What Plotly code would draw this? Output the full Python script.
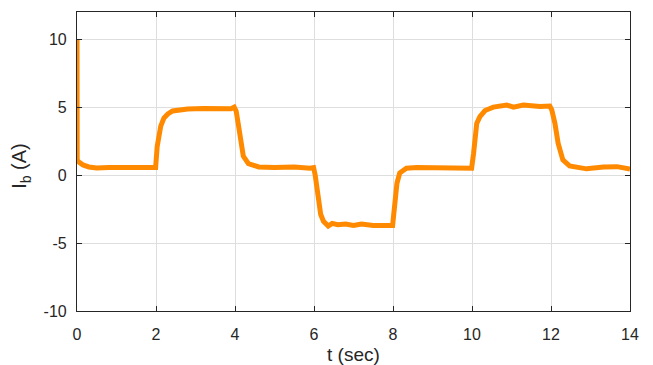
import plotly.graph_objects as go

# Time samples (s) and phase current I_b (A)
t_sec = [0.0, 0.005, 0.05, 0.15, 0.3, 0.5, 0.8, 1.0, 1.3, 1.6, 1.9, 1.99,
         2.03, 2.08, 2.12, 2.2, 2.3, 2.42, 2.6, 2.8, 3.2, 3.6, 3.9, 3.98,
         4.03, 4.08, 4.13, 4.21, 4.34, 4.6, 5.0, 5.5, 5.9, 5.99,
         6.03, 6.07, 6.11, 6.17, 6.24, 6.36, 6.46, 6.6, 6.8, 7.0, 7.2, 7.5, 7.99,
         8.05, 8.1, 8.17, 8.34, 8.6, 9.0, 9.5, 9.99,
         10.04, 10.08, 10.12, 10.2, 10.33, 10.54, 10.88, 11.05, 11.3, 11.72, 11.97,
         12.02, 12.1, 12.18, 12.3, 12.47, 12.9, 13.33, 13.67, 14.0]
ib_amp = [10.0, 1.1, 0.95, 0.75, 0.6, 0.52, 0.55, 0.58, 0.55, 0.55, 0.55, 0.55,
          2.1, 3.0, 3.6, 4.2, 4.5, 4.72, 4.82, 4.87, 4.9, 4.88, 4.88, 5.0,
          4.7, 3.8, 2.6, 1.4, 0.85, 0.6, 0.55, 0.6, 0.5, 0.55,
          0.0, -0.85, -2.0, -2.9, -3.4, -3.75, -3.55, -3.65, -3.6, -3.7, -3.6, -3.7, -3.7,
          -2.0, -0.6, 0.15, 0.5, 0.55, 0.55, 0.58, 0.5,
          1.6, 2.85, 3.8, 4.3, 4.75, 5.0, 5.15, 5.0, 5.15, 5.05, 5.08,
          4.8, 3.8, 2.35, 1.12, 0.68, 0.46, 0.59, 0.62, 0.45]

x_ticks = [0, 2, 4, 6, 8, 10, 12, 14]
y_ticks = [-10, -5, 0, 5, 10]

FONT = "Liberation Sans, Arial, Helvetica, sans-serif"
AXIS_COLOR = "#262626"
GRID_COLOR = "#dedede"

fig = go.Figure()
fig.add_trace(go.Scatter(
    x=t_sec, y=ib_amp, mode="lines",
    line=dict(color="#ff8a00", width=5, shape="linear"),
    showlegend=False, hoverinfo="skip",
))

axis_common = dict(
    showline=True, linecolor=AXIS_COLOR, linewidth=1.2, mirror="ticks",
    ticks="inside", ticklen=5, tickwidth=1, tickcolor=AXIS_COLOR,
    showgrid=True, gridcolor=GRID_COLOR, gridwidth=1,
    zeroline=False,
    tickfont=dict(family=FONT, size=16, color=AXIS_COLOR),
)

fig.update_xaxes(range=[0, 14], tickvals=x_ticks, ticktext=[str(v) for v in x_ticks],
                 ticklabelstandoff=9, **axis_common)
fig.update_yaxes(range=[-10, 12], tickvals=y_ticks, ticktext=[str(v) for v in y_ticks],
                 ticklabelstandoff=6, **axis_common)

fig.update_layout(
    width=653, height=365,
    margin=dict(l=77, r=23, t=12, b=54, autoexpand=False),
    plot_bgcolor="white", paper_bgcolor="white",
    font=dict(family=FONT, color=AXIS_COLOR),
    annotations=[
        dict(text="t (sec)", xref="paper", yref="paper", x=0.5, y=-0.147,
             xanchor="center", yanchor="middle", showarrow=False,
             font=dict(family=FONT, size=19, color=AXIS_COLOR)),
        dict(text="I<sub>b</sub> (A)", xref="paper", yref="paper", x=-0.101, y=0.486,
             xanchor="center", yanchor="middle", textangle=-90, showarrow=False,
             font=dict(family=FONT, size=20, color=AXIS_COLOR)),
    ],
)

fig.write_html("out.html", config={"displayModeBar": False},
               post_script="document.body.style.margin='0px';")
